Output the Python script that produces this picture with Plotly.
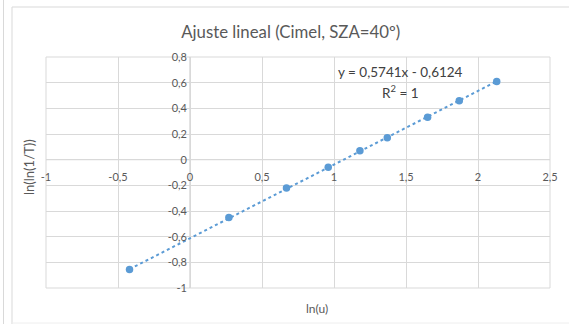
import plotly.graph_objects as go

# Data
ln_u = [-0.42, 0.27, 0.67, 0.96, 1.18, 1.37, 1.65, 1.87, 2.13]
ln_ln_inv_T = [-0.855, -0.45, -0.22, -0.06, 0.07, 0.17, 0.33, 0.46, 0.61]
slope = 0.5741
intercept = -0.6124

x_tickvals = [-1, -0.5, 0, 0.5, 1, 1.5, 2, 2.5]
x_ticktext = ["-1", "-0,5", "0", "0,5", "1", "1,5", "2", "2,5"]
y_tickvals = [-1, -0.8, -0.6, -0.4, -0.2, 0, 0.2, 0.4, 0.6, 0.8]
y_ticktext = ["-1", "-0,8", "-0,6", "-0,4", "-0,2", "0", "0,2", "0,4", "0,6", "0,8"]

x_range = [-1, 2.5]
y_range = [-1, 0.8]

color = "#5B9BD5"
font_family = "Lato, 'Open Sans', sans-serif"
tick_color = "#595959"
grid_color = "#D9D9D9"

W, H = 569, 324
L, R, T, B = 46, 19, 57, 36
PW, PH = W - L - R, H - T - B


def px(xp):
    return (xp - L) / PW


def py(yp):
    return (H - B - yp) / PH


trend_x = [min(ln_u), max(ln_u)]
trend_y = [slope * v + intercept for v in trend_x]

fig = go.Figure()
fig.add_trace(go.Scatter(x=trend_x, y=trend_y, mode="lines",
                         line=dict(color=color, width=2, dash="dot"),
                         showlegend=False, hoverinfo="skip"))
fig.add_trace(go.Scatter(x=ln_u, y=ln_ln_inv_T, mode="markers",
                         marker=dict(color=color, size=7.5),
                         showlegend=False))

# positions of the crossing axes (at x=0 and y=0)
ypos = (0 - x_range[0]) / (x_range[1] - x_range[0])
xpos = (0 - y_range[0]) / (y_range[1] - y_range[0])

fig.update_layout(
    width=W, height=H,
    margin=dict(l=L, r=R, t=T, b=B),
    paper_bgcolor="white", plot_bgcolor="white",
    font=dict(family=font_family, color=tick_color, size=11),
    title=dict(text="Ajuste lineal (Cimel, SZA=40º)", x=0.511, xanchor="center",
               y=1 - 32 / H, yanchor="middle", yref="container",
               font=dict(family=font_family, size=16.8, color="#595959")),
    xaxis=dict(range=x_range, tickvals=x_tickvals, ticktext=x_ticktext,
               showgrid=True, gridcolor=grid_color, gridwidth=1,
               zeroline=False, showline=False, anchor="free", position=xpos,
               ticks="", ticklabelstandoff=9,
               tickfont=dict(size=11, color=tick_color)),
    yaxis=dict(range=y_range, tickvals=y_tickvals, ticktext=y_ticktext,
               showgrid=True, gridcolor=grid_color, gridwidth=1,
               zeroline=False, showline=False, anchor="free", position=ypos,
               ticks="", ticklabelstandoff=3,
               tickfont=dict(size=11, color=tick_color)),
    shapes=[
        # plot-area frame
        dict(type="rect", xref="paper", yref="paper", x0=0, x1=1, y0=0, y1=1,
             line=dict(color=grid_color, width=1), layer="below"),
        dict(type="line", xref="x", yref="y", x0=0, x1=0, y0=y_range[0], y1=y_range[1],
             line=dict(color="#C6C6C6", width=1), layer="below"),
        dict(type="line", xref="x", yref="y", x0=x_range[0], x1=x_range[1], y0=0, y1=0,
             line=dict(color="#C6C6C6", width=1), layer="below"),
        # chart frame / neighbouring panel edges
        dict(type="line", xref="paper", yref="paper", x0=px(3.5), x1=px(3.5), y0=py(324), y1=py(0),
             line=dict(color="#D9D9D9", width=1)),
        dict(type="line", xref="paper", yref="paper", x0=px(12), x1=px(12), y0=py(324), y1=py(7),
             line=dict(color="#D9D9D9", width=1)),
        dict(type="line", xref="paper", yref="paper", x0=px(12), x1=px(569), y0=py(7), y1=py(7),
             line=dict(color="#D9D9D9", width=1)),
        dict(type="line", xref="paper", yref="paper", x0=px(12), x1=px(569), y0=py(323), y1=py(323),
             line=dict(color="#EEEEEE", width=1)),
    ],
    annotations=[
        dict(text="y = 0,5741x - 0,6124", x=1.465, y=0.687, xref="x", yref="y",
             showarrow=False, xanchor="center", yanchor="middle",
             font=dict(size=13.5, color="#404040")),
        dict(text="R<sup>2</sup> = 1", x=1.46, y=0.531, xref="x", yref="y",
             showarrow=False, xanchor="center", yanchor="middle",
             font=dict(size=13.5, color="#404040")),
        dict(text="ln(u)", x=px(317), y=py(308), xref="paper", yref="paper",
             showarrow=False, xanchor="center", yanchor="middle",
             font=dict(size=12, color=tick_color)),
        dict(text="ln(ln(1/T))", x=px(29), y=py(167), xref="paper", yref="paper",
             showarrow=False, xanchor="center", yanchor="middle", textangle=-90,
             font=dict(size=13, color=tick_color)),
    ],
)

fig.write_html("out.html", config={"displayModeBar": False},
               post_script="document.body.style.margin='0';")
